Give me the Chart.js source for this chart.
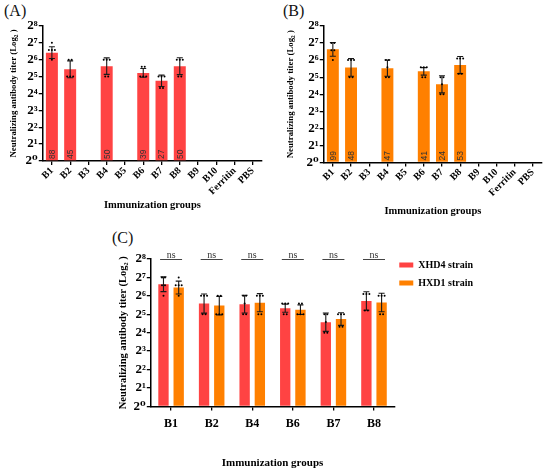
<!DOCTYPE html>
<html><head><meta charset="utf-8">
<script src="https://cdn.jsdelivr.net/npm/chart.js@4.4.0/dist/chart.umd.min.js"></script>
<style>
html,body{margin:0;padding:0;background:#fff;width:550px;height:474px;overflow:hidden}
canvas{position:absolute;display:block}
.plabel{position:absolute;font-family:"Liberation Serif","DejaVu Serif",serif;font-size:16px;color:#111;line-height:16px}
</style></head><body>
<div class="plabel" style="left:4px;top:3px">(A)</div>
<div class="plabel" style="left:283px;top:3px">(B)</div>
<div class="plabel" style="left:112px;top:230px">(C)</div>
<canvas id="cA" width="275" height="220" style="left:0;top:0"></canvas>
<canvas id="cB" width="275" height="220" style="left:275px;top:0"></canvas>
<canvas id="cC" width="396" height="249" style="left:100px;top:225px"></canvas>
<script>
// ---------- data ----------
const groupsAB = ['B1','B2','B3','B4','B5','B6','B7','B8','B9','B10','Ferritin','PBS'];
// Panel A (log2 titer)
const meanA  = [6.42, 5.43, null, 5.62, null, 5.22, 4.75, 5.62, null, null, null, null];
const sdA    = [0.35, 0.50, null, 0.49, null, 0.26, 0.34, 0.50, null, null, null, null];
const countA = [88, 45, null, 50, null, 39, 27, 50, null, null, null, null];
const ptsA   = [[7,6.58,6.58,6.58,6],[6,6,5,5,5],[],[6,6,6,5,5],[],[5.58,5.58,5,5,5],[5,5,5,4.32,4.32],[6,6,6,5,5],[],[],[],[]];
// Panel B
const meanB  = [6.63, 5.57, null, 5.53, null, 5.34, 4.58, 5.71, null, null, null, null];
const sdB    = [0.40, 0.52, null, 0.48, null, 0.22, 0.50, 0.50, null, null, null, null];
const countB = [99, 48, null, 47, null, 41, 24, 53, null, null, null, null];
const ptsB   = [[7,7,6.58,6.58,6],[6,6,6,5,5],[],[6,6,5.58,5,5],[],[5.58,5.58,5.58,5,5],[5,5,4.58,4,4],[6.1,6.1,6.1,5.2,5.2],[],[],[],[]];
// Panel C
const groupsC = ['B1','B2','B4','B6','B7','B8'];
const meanXHD4 = [6.63, 5.58, 5.55, 5.33, 4.57, 5.72];
const sdXHD4   = [0.40, 0.52, 0.48, 0.22, 0.50, 0.50];
const ptsXHD4  = [[7,7,6.58,6.58,6],[6,6,6,5,5],[6,6,5.58,5,5],[5.58,5.58,5.58,5,5],[5,5,4.58,4,4],[6.1,6.1,6.1,5.2,5.2]];
const meanHXD1 = [6.45, 5.47, 5.63, 5.25, 4.74, 5.64];
const sdHXD1   = [0.35, 0.50, 0.49, 0.26, 0.34, 0.50];
const ptsHXD1  = [[7,6.58,6.58,6.58,6],[6,6,5,5,5],[6,6,6,5,5],[5.58,5.58,5,5,5],[5,5,5,4.32,4.32],[6,6,6,5,5]];
const nsLabels = ['ns','ns','ns','ns','ns','ns'];
const yTicks = [0,1,2,3,4,5,6,7,8];
const SUP = ['⁰','¹','²','³','⁴','⁵','⁶','⁷','⁸'];

const RED = '#FF4343', ORANGE = '#FF8000';
const SERIF = '"Liberation Serif","DejaVu Serif",serif';

// ---------- overlay plugin: counts, error bars, dots ----------
const overlay = {
  id: 'overlay',
  afterDatasetsDraw(chart) {
    const ctx = chart.ctx, ys = chart.scales.y;
    chart.data.datasets.forEach((ds, di) => {
      const meta = chart.getDatasetMeta(di);
      meta.data.forEach((bar, i) => {
        const m = ds.data[i];
        if (m == null) return;
        const x = bar.x;
        ctx.save();
        if (ds.counts && ds.counts[i] != null) {
          ctx.save();
          ctx.translate(x, ys.getPixelForValue(0) - 2);
          ctx.rotate(-Math.PI / 2);
          ctx.font = '8.5px "Liberation Sans", Arial, sans-serif';
          ctx.fillStyle = '#333';
          ctx.textAlign = 'left';
          ctx.textBaseline = 'middle';
          ctx.fillText(String(ds.counts[i]), 0, 0.5);
          ctx.restore();
        }
        const e = ds.errors[i];
        const yt = ys.getPixelForValue(m + e), yb = ys.getPixelForValue(m - e);
        ctx.strokeStyle = '#1a1a1a';
        ctx.lineWidth = 1.1;
        ctx.beginPath();
        ctx.moveTo(x, yt); ctx.lineTo(x, yb);
        ctx.moveTo(x - 3, yt); ctx.lineTo(x + 3, yt);
        ctx.moveTo(x - 3, yb); ctx.lineTo(x + 3, yb);
        ctx.stroke();
        const pts = ds.points[i] || [];
        const grp = {};
        pts.forEach(v => { grp[v] = (grp[v] || 0) + 1; });
        ctx.fillStyle = '#000';
        Object.keys(grp).forEach(k => {
          const n = grp[k], py = ys.getPixelForValue(+k);
          for (let j = 0; j < n; j++) {
            const px = x + (j - (n - 1) / 2) * 3;
            ctx.beginPath(); ctx.arc(px, py, 1, 0, Math.PI * 2); ctx.fill();
          }
        });
        ctx.restore();
      });
    });
  }
};

const nsPlugin = {
  id: 'nsPlugin',
  afterDraw(chart) {
    const ctx = chart.ctx, xs = chart.scales.x, ys = chart.scales.y;
    const y = ys.getPixelForValue(8) + 0.5;
    ctx.save();
    ctx.strokeStyle = '#444'; ctx.lineWidth = 1;
    ctx.fillStyle = '#333';
    ctx.font = '10px ' + SERIF;
    ctx.textAlign = 'center'; ctx.textBaseline = 'alphabetic';
    nsLabels.forEach((t, i) => {
      const x = xs.getPixelForValue(i);
      ctx.beginPath(); ctx.moveTo(x - 11, y); ctx.lineTo(x + 11, y); ctx.stroke();
      ctx.fillText(t, x, y - 2);
    });
    ctx.restore();
  }
};

// nudge the legend up/left to sit beside the top of the plot
const legendShift = {
  id: 'legendShift',
  afterLayout(chart) {
    const l = chart.legend;
    if (!l) return;
    l.top -= 7; l.bottom -= 7; l.left -= 3; l.right -= 3;
  }
};

function yScale(titleSize, tickSize, titleGap) {
  return {
    min: 0, max: 8,
    afterBuildTicks: s => { s.ticks = yTicks.map(v => ({ value: v })); },
    ticks: { autoSkip: false, callback: v => '2' + SUP[v], font: { family: SERIF, weight: 'bold', size: tickSize }, color: '#000', padding: 1 },
    grid: { drawOnChartArea: false, drawTicks: true, tickLength: 4, color: '#000', lineWidth: 1.3 },
    border: { color: '#000', width: 1.5 },
    title: { display: true, text: 'Neutralizing antibody titer (Log₂ )', font: { family: SERIF, weight: 'bold', size: titleSize }, color: '#000', padding: { top: 0, bottom: titleGap } }
  };
}

function topChart(id, mean, sd, counts, pts, color, pad, titleGap, xTitleTop) {
  return new Chart(document.getElementById(id), {
    type: 'bar',
    data: { labels: groupsAB, datasets: [{ data: mean, errors: sd, counts: counts, points: pts, backgroundColor: color, categoryPercentage: 0.8, barPercentage: 0.82 }] },
    options: {
      responsive: false, animation: false,
      layout: { padding: pad },
      plugins: { legend: { display: false }, tooltip: { enabled: false } },
      scales: {
        x: {
          offset: true,
          ticks: { autoSkip: false, minRotation: 45, maxRotation: 45, font: { family: SERIF, weight: 'bold', size: 10 }, color: '#000', padding: 0 },
          grid: { offset: false, drawOnChartArea: false, drawTicks: true, tickLength: 4, color: '#000', lineWidth: 1.3 },
          border: { color: '#000', width: 1.5 },
          title: { display: true, text: 'Immunization groups', font: { family: SERIF, weight: 'bold', size: 10.5 }, color: '#000', padding: { top: xTitleTop, bottom: 0 } }
        },
        y: yScale(8.8, 13, titleGap)
      }
    },
    plugins: [overlay]
  });
}

topChart('cA', meanA, sdA, countA, ptsA, RED, { left: 8, right: 13, top: 26, bottom: 8 }, 6, 2);
topChart('cB', meanB, sdB, countB, ptsB, ORANGE, { left: 10, right: 8, top: 26, bottom: 2 }, 10, 6.5);

new Chart(document.getElementById('cC'), {
  type: 'bar',
  data: {
    labels: groupsC,
    datasets: [
      { label: 'XHD4 strain', data: meanXHD4, errors: sdXHD4, points: ptsXHD4, backgroundColor: RED, categoryPercentage: 0.75, barPercentage: 0.68 },
      { label: 'HXD1 strain', data: meanHXD1, errors: sdHXD1, points: ptsHXD1, backgroundColor: ORANGE, categoryPercentage: 0.75, barPercentage: 0.68 }
    ]
  },
  options: {
    responsive: false, animation: false,
    layout: { padding: { left: 17, right: 10, top: 34, bottom: 4 } },
    plugins: {
      tooltip: { enabled: false },
      legend: {
        position: 'right', align: 'start',
        labels: { boxWidth: 14, boxHeight: 5, padding: 8, color: '#000', font: { family: SERIF, weight: 'bold', size: 10 } }
      }
    },
    scales: {
      x: {
        offset: true,
        ticks: { autoSkip: false, maxRotation: 0, font: { family: SERIF, weight: 'bold', size: 12 }, color: '#000', padding: 6 },
        grid: { offset: false, drawOnChartArea: false, drawTicks: true, tickLength: 4, color: '#000', lineWidth: 1.3 },
        border: { color: '#000', width: 1.5 },
        title: { display: true, text: 'Immunization groups', font: { family: SERIF, weight: 'bold', size: 11 }, color: '#000', padding: { top: 20, bottom: 0 } }
      },
      y: yScale(10.5, 13, 3)
    }
  },
  plugins: [overlay, nsPlugin, legendShift]
});
</script>
</body></html>
